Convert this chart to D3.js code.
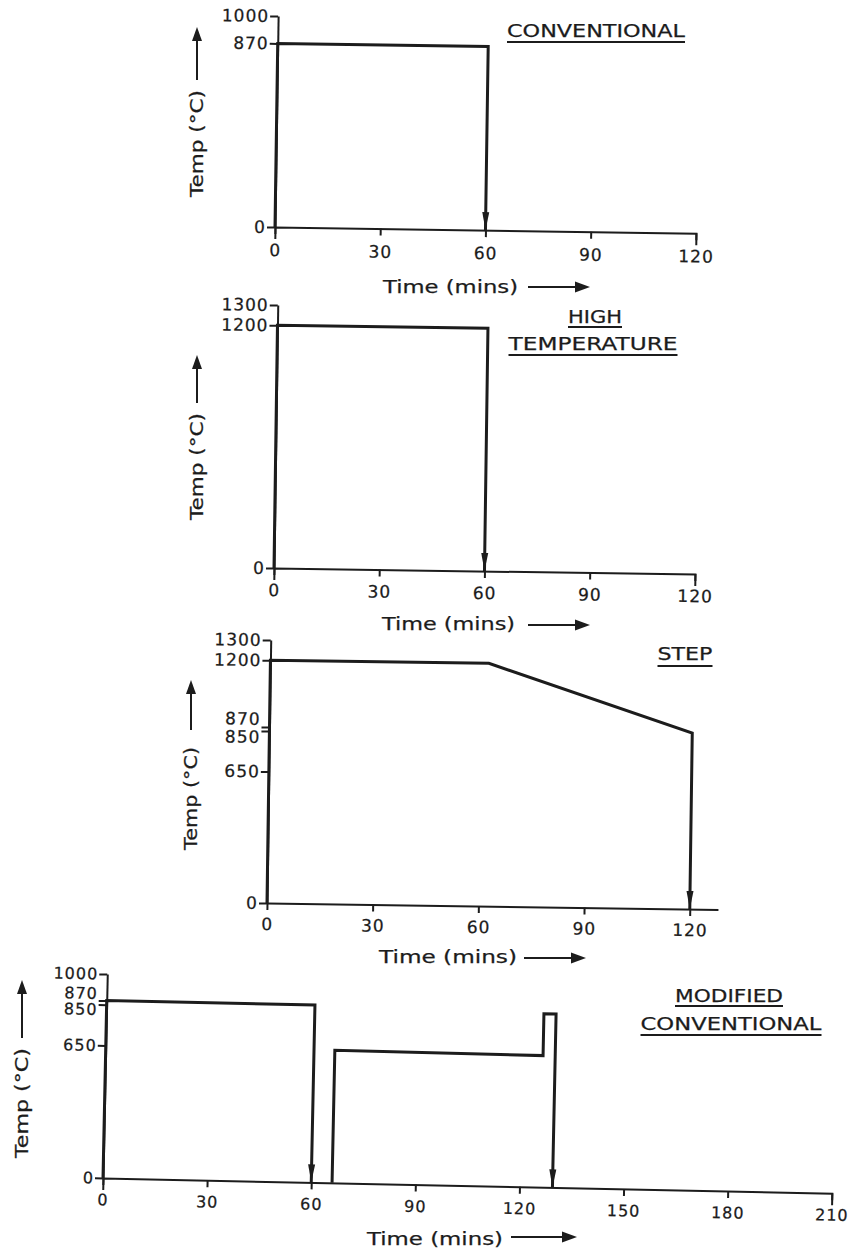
<!doctype html>
<html>
    <head>
        <script src="https://d3js.org/d3.v7.min.js"></script>
        <style>
            body { margin: 0; background: #fff; }
            text { font-family: "DejaVu Sans", sans-serif; fill: #1c1c1c; stroke: #1c1c1c; stroke-width: 0.25px; }
        </style>
    </head>
    <body>
        <svg id="chart" width="853" height="1253"></svg>

        <script>
            // heat treatment schedules: time (mins) and temperature (°C) at each corner
            var convTime = [0, 0, 60, 60];
            var convTemp = [0, 870, 870, 0];

            var highTime = [0, 0, 60, 60];
            var highTemp = [0, 1200, 1200, 0];

            var stepTime = [0, 0, 62, 120, 120];
            var stepTemp = [0, 1200, 1200, 870, 0];

            var modTimeA = [0, 0, 60, 60];
            var modTempA = [0, 870, 870, 0];
            var modTimeB = [66, 66, 126, 126, 129.5, 129.5];
            var modTempB = [0, 650, 645, 850, 850, 0];

            // tick labels
            var xTicks120 = [0, 30, 60, 90, 120];
            var xTicks210 = [0, 30, 60, 90, 120, 150, 180, 210];
            var yTicksConv = [0, 870, 1000];
            var yTicksHigh = [0, 1200, 1300];
            var yTicksStep = [0, 650, 850, 870, 1200, 1300];
            var yTicksMod = [0, 650, 850, 870, 1000];

            // titles
            var titleConv = ["CONVENTIONAL"];
            var titleHigh = ["HIGH", "TEMPERATURE"];
            var titleStep = ["STEP"];
            var titleMod = ["MODIFIED", "CONVENTIONAL"];

            var ink = "#1c1c1c";
            var svg = d3.select("#chart");

            var panels = [
                {
                    series: [[convTime, convTemp]], xTicks: xTicks120, yTicks: yTicksConv,
                    xDomain: [0, 120], xRange: [275, 696], yDomain: [0, 1000], yRange: [227, 16],
                    tilt: 0.85, xOuter: 12, xPad: 10, fs: 17,
                    title: titleConv, titleX: [596], titleY: [37], titleW: [178], ulY: [42],
                    yLab: { x: 197, top: 90, bottom: 197, arrowTop: 27, arrowBottom: 80 },
                    xLab: { x: 383, y: 293, w: 135, a1: 528, a2: 590, ay: 287 }
                },
                {
                    series: [[highTime, highTemp]], xTicks: xTicks120, yTicks: yTicksHigh,
                    xDomain: [0, 120], xRange: [274, 695], yDomain: [0, 1300], yRange: [568, 305],
                    tilt: 0.82, xOuter: 12, xPad: 9, fs: 17,
                    title: titleHigh, titleX: [595, 593], titleY: [323, 350], titleW: [54, 169], ulY: [327, 355],
                    yLab: { x: 197, top: 413, bottom: 520, arrowTop: 355, arrowBottom: 403 },
                    xLab: { x: 382, y: 630, w: 133, a1: 528, a2: 590, ay: 625 }
                },
                {
                    series: [[stepTime, stepTemp]], xTicks: xTicks120, yTicks: yTicksStep,
                    xDomain: [0, 128], xRange: [267, 718], yDomain: [0, 1300], yRange: [903, 640],
                    tilt: 0.81, xOuter: 0, xPad: 8, fs: 17,
                    nudge: { 870: -8, 850: 6 },
                    title: titleStep, titleX: [685], titleY: [660], titleW: [55], ulY: [666],
                    yLab: { x: 191, top: 747, bottom: 850, arrowTop: 680, arrowBottom: 730 },
                    xLab: { x: 379, y: 963, w: 138, a1: 524, a2: 586, ay: 958 }
                },
                {
                    series: [[modTimeA, modTempA], [modTimeB, modTempB]], xTicks: xTicks210, yTicks: yTicksMod,
                    xDomain: [0, 210], xRange: [103, 832], yDomain: [0, 1000], yRange: [1178, 974],
                    tilt: 1.2, xOuter: 12, xPad: 9, fs: 16,
                    nudge: { 870: -7, 850: 5 },
                    title: titleMod, titleX: [729, 731], titleY: [1002, 1030], titleW: [108, 181], ulY: [1006, 1035],
                    yLab: { x: 22, top: 1048, bottom: 1158, arrowTop: 980, arrowBottom: 1038 },
                    xLab: { x: 367, y: 1245, w: 136, a1: 511, a2: 577, ay: 1237 }
                }
            ];

            panels.forEach(drawPanel);

            function drawPanel(p) {
                var x = d3.scaleLinear().domain(p.xDomain).range(p.xRange);
                var y = d3.scaleLinear().domain(p.yDomain).range(p.yRange);

                // scanned page is slightly skewed, rotate plot around its origin
                var g = svg.append("g")
                    .attr("transform", "rotate(" + p.tilt + "," + x(0) + "," + y(0) + ")");

                var xAxis = d3.axisBottom(x)
                    .tickValues(p.xTicks)
                    .tickFormat(d3.format("d"))
                    .tickSizeInner(7)
                    .tickSizeOuter(p.xOuter)
                    .tickPadding(p.xPad);

                var yAxis = d3.axisLeft(y)
                    .tickValues(p.yTicks)
                    .tickFormat(d3.format("d"))
                    .tickSizeInner(8)
                    .tickSizeOuter(0)
                    .tickPadding(1);

                var xg = g.append("g").attr("transform", "translate(0," + y(0) + ")").call(xAxis);
                var yg = g.append("g").attr("transform", "translate(" + x(0) + ",0)").call(yAxis);

                [xg, yg].forEach(function(a) {
                    a.attr("font-family", null).attr("font-size", p.fs);
                    a.select(".domain").attr("stroke", ink).attr("stroke-width", 2);
                    a.selectAll(".tick line").attr("stroke", ink).attr("stroke-width", 2);
                    a.selectAll(".tick text").attr("fill", ink).style("letter-spacing", "1px");
                });

                if (p.nudge) {
                    yg.selectAll(".tick text")
                        .attr("y", function(d) { return p.nudge[d] || 0; });
                }

                var line = d3.line()
                    .x(function(d) { return x(d[0]); })
                    .y(function(d) { return y(d[1]); });

                p.series.forEach(function(s) {
                    var pts = d3.zip(s[0], s[1]);
                    g.append("path")
                        .datum(pts)
                        .attr("d", line)
                        .attr("fill", "none")
                        .attr("stroke", ink)
                        .attr("stroke-width", 3)
                        .attr("stroke-linejoin", "miter");

                    // arrow head where the line hits the time axis
                    var last = pts[pts.length - 1];
                    var tx = x(last[0]), ty = y(last[1]);
                    g.append("path")
                        .attr("d", "M" + (tx - 3.5) + "," + (ty - 18) + "L" + (tx + 3.5) + "," + (ty - 18) + "L" + tx + "," + ty + "Z")
                        .attr("fill", ink);
                });

                // title, underlined
                p.title.forEach(function(t, i) {
                    svg.append("text")
                        .attr("x", p.titleX[i])
                        .attr("y", p.titleY[i])
                        .attr("text-anchor", "middle")
                        .attr("font-size", 18)
                        .attr("textLength", p.titleW[i])
                        .attr("lengthAdjust", "spacingAndGlyphs")
                        .text(t);
                    svg.append("line")
                        .attr("x1", p.titleX[i] - p.titleW[i] / 2)
                        .attr("x2", p.titleX[i] + p.titleW[i] / 2)
                        .attr("y1", p.ulY[i]).attr("y2", p.ulY[i])
                        .attr("stroke", ink).attr("stroke-width", 2);
                });

                // y label with upward arrow
                var yl = p.yLab;
                svg.append("text")
                    .attr("transform", "translate(" + (yl.x + 6) + "," + yl.bottom + ") rotate(-90)")
                    .attr("font-size", 17)
                    .attr("textLength", yl.bottom - yl.top)
                    .attr("lengthAdjust", "spacingAndGlyphs")
                    .text("Temp (°C)");
                svg.append("line")
                    .attr("x1", yl.x).attr("x2", yl.x)
                    .attr("y1", yl.arrowBottom).attr("y2", yl.arrowTop + 10)
                    .attr("stroke", ink).attr("stroke-width", 2);
                svg.append("path")
                    .attr("d", "M" + (yl.x - 5) + "," + (yl.arrowTop + 14) + "L" + (yl.x + 5) + "," + (yl.arrowTop + 14) + "L" + yl.x + "," + yl.arrowTop + "Z")
                    .attr("fill", ink);

                // x label with rightward arrow
                var xl = p.xLab;
                svg.append("text")
                    .attr("x", xl.x)
                    .attr("y", xl.y)
                    .attr("font-size", 18)
                    .attr("textLength", xl.w)
                    .attr("lengthAdjust", "spacingAndGlyphs")
                    .text("Time (mins)");
                svg.append("line")
                    .attr("x1", xl.a1).attr("x2", xl.a2 - 10)
                    .attr("y1", xl.ay).attr("y2", xl.ay)
                    .attr("stroke", ink).attr("stroke-width", 2);
                svg.append("path")
                    .attr("d", "M" + (xl.a2 - 15) + "," + (xl.ay - 5.5) + "L" + (xl.a2 - 15) + "," + (xl.ay + 5.5) + "L" + xl.a2 + "," + xl.ay + "Z")
                    .attr("fill", ink);
            }
        </script>
    </body>
</html>
